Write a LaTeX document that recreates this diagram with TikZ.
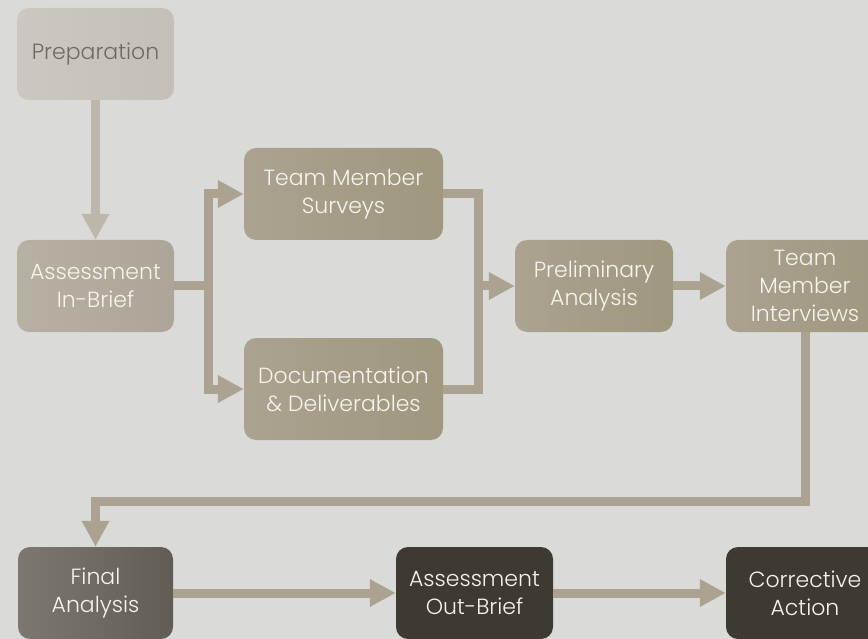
\documentclass[tikz,border=0pt]{standalone}
\usepackage{fontspec}
\setmainfont{Poppins}[UprightFont=* Light]
\usetikzlibrary{arrows.meta}
\definecolor{bgc}{HTML}{DADBD9}
\definecolor{prepL}{HTML}{CCC8BF}
\definecolor{prepR}{HTML}{C4C0B7}
\definecolor{inbL}{HTML}{B8B0A3}
\definecolor{inbR}{HTML}{ADA597}
\definecolor{midL}{HTML}{ABA290}
\definecolor{midR}{HTML}{A0977F}
\definecolor{finL}{HTML}{7D786F}
\definecolor{finR}{HTML}{615D55}
\definecolor{darkbox}{HTML}{3E3A31}
\definecolor{arrlight}{HTML}{BDB6AA}
\definecolor{arrmid}{HTML}{ABA291}
\definecolor{txtgray}{HTML}{6C6B69}
\definecolor{txtwhite}{HTML}{F6F4EF}
\tikzset{
  box/.style={rounded corners=12pt, inner sep=0pt, align=center, text=txtwhite,
    font=\fontsize{22}{28}\selectfont},
  arr/.style={draw=arrmid, line width=9pt, line join=miter,
    -{Triangle[length=26pt,width=26pt]}},
  conn/.style={draw=arrmid, line width=9pt, line join=miter}
}
\begin{document}
\begin{tikzpicture}[x=1pt,y=-1pt]
\fill[bgc] (0,0) rectangle (868,639);
\clip (0,0) rectangle (868,639);
\node[box, left color=prepL, right color=prepR, text=txtgray, minimum width=157pt, minimum height=92pt] (prep) at (95.5,54) {Preparation};
\node[box, left color=inbL, right color=inbR, minimum width=157pt, minimum height=92pt] (inbrief) at (95.5,286) {Assessment\\In-Brief};
\node[box, left color=midL, right color=midR, minimum width=199pt, minimum height=92pt] (surveys) at (343.5,194) {Team Member\\Surveys};
\node[box, left color=midL, right color=midR, minimum width=199pt, minimum height=102pt] (doc) at (343.5,389) {Documentation\\\& Deliverables};
\node[box, left color=midL, right color=midR, minimum width=158pt, minimum height=92pt] (prelim) at (594,286) {Preliminary\\Analysis};
\node[box, left color=midL, right color=midR, minimum width=158pt, minimum height=92pt] (interviews) at (805,286) {Team\\Member\\Interviews};
\node[box, left color=finL, right color=finR, minimum width=155pt, minimum height=92pt] (final) at (95.5,593) {Final\\Analysis};
\node[box, fill=darkbox, minimum width=157pt, minimum height=92pt] (outbrief) at (474.5,593) {Assessment\\Out-Brief};
\node[box, fill=darkbox, minimum width=158pt, minimum height=92pt] (corrective) at (805,593) {Corrective\\Action};
\coordinate (jl) at (208.5,286);
\coordinate (jr) at (478.5,286);
\coordinate (turn) at (805,501);
\draw[arr, draw=arrlight] (prep) -- (inbrief);
\draw[conn] (inbrief.east) -- (jl);
\draw[arr] (jl) |- (surveys.west);
\draw[arr] (jl) |- (doc.west);
\draw[conn] (surveys.east) -| (jr);
\draw[conn] (doc.east) -| (jr);
\draw[arr] (jr) -- (prelim.west);
\draw[arr] (prelim) -- (interviews);
\draw[arr] (interviews.south) -- (turn) -| (final.north);
\draw[arr] (final) -- (outbrief);
\draw[arr] (outbrief) -- (corrective);
\end{tikzpicture}
\end{document}
